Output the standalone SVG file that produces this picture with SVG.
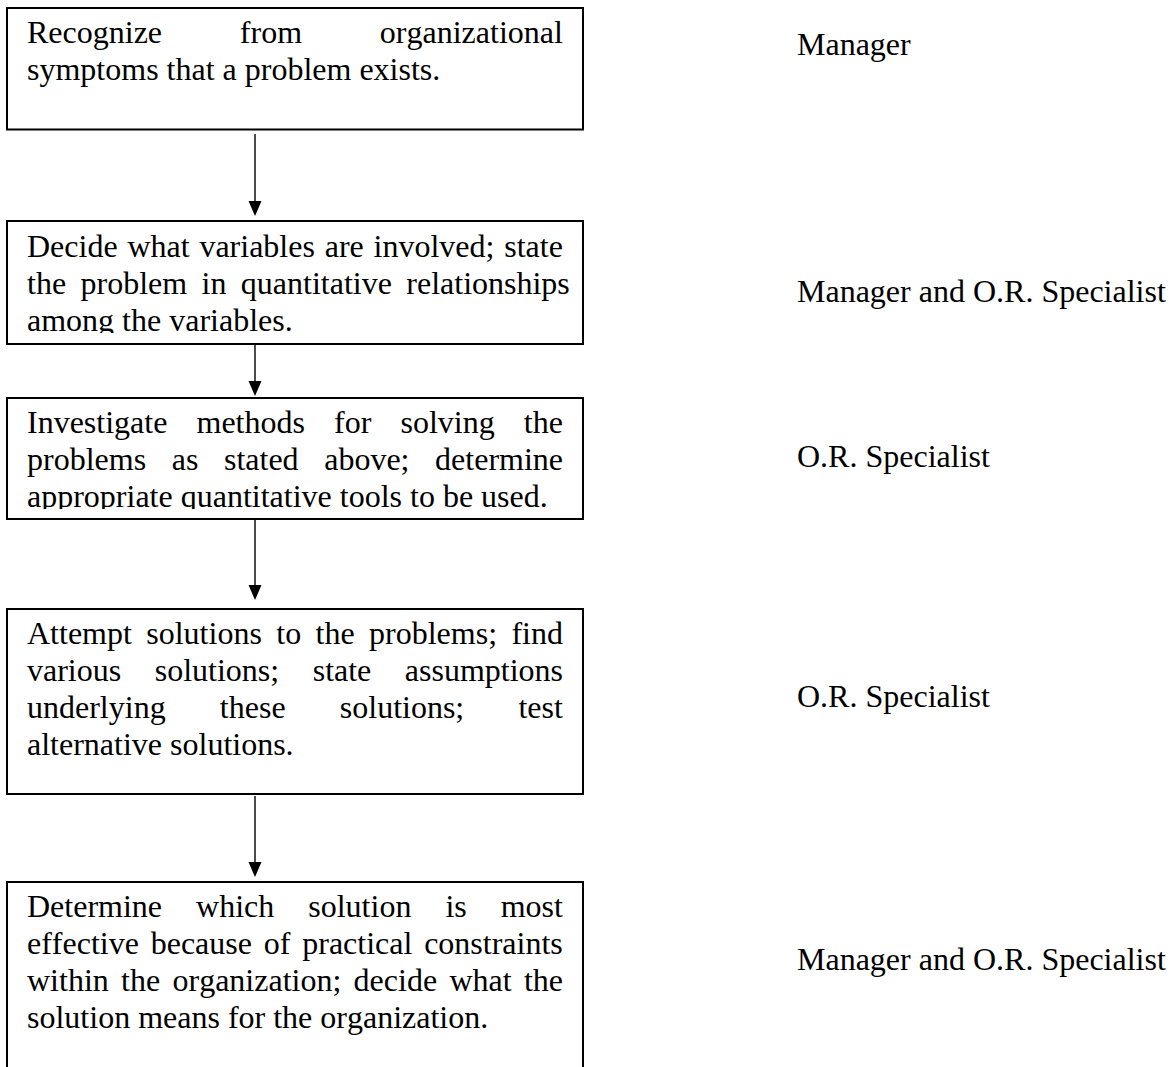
<svg xmlns="http://www.w3.org/2000/svg" width="1172" height="1067" viewBox="0 0 1172 1067">
  <style>
    .box { fill: #ffffff; stroke: #000000; stroke-width: 2; }
    .txt { font-family: "Liberation Serif", "Times New Roman", serif; font-size: 32px; fill: #000000; font-kerning: none; }
    .role { font-family: "Liberation Serif", "Times New Roman", serif; font-size: 32px; fill: #000000; font-kerning: none; }
    .link { stroke: #000000; stroke-width: 1.4; fill: none; }
  </style>
  <defs>
    <marker id="head" markerUnits="userSpaceOnUse" markerWidth="16" markerHeight="14" viewBox="0 0 16 14" refX="3" refY="7" orient="auto">
      <path d="M0,0.5 L15,7 L0,13.5 Z" fill="#000000"/>
    </marker>
    <!-- text frames of the two overfull boxes: the last line is cut at the inner margin -->
    <clipPath id="clip2"><rect x="8" y="222" width="574" height="111"/></clipPath>
    <clipPath id="clip3"><rect x="8" y="399" width="574" height="110"/></clipPath>
  </defs>

  <rect width="1172" height="1067" fill="#ffffff"/>

  <!-- step 1 -->
  <g id="step1">
    <rect class="box" x="7" y="8" width="576" height="121.5"/>
    <text class="txt" x="27" y="43" style="word-spacing:69.8px">Recognize from organizational</text>
    <text class="txt" x="27" y="80">symptoms that a problem exists.</text>
  </g>

  <!-- step 2 -->
  <g id="step2">
    <rect class="box" x="7" y="221" width="576" height="123"/>
    <g clip-path="url(#clip2)">
      <text class="txt" x="27" y="257" style="word-spacing:1.8px">Decide what variables are involved; state</text>
      <text class="txt" x="27" y="294" style="word-spacing:6.4px">the problem in quantitative relationships</text>
      <text class="txt" x="27" y="331">among the variables.</text>
    </g>
  </g>

  <!-- step 3 -->
  <g id="step3">
    <rect class="box" x="7" y="398" width="576" height="121"/>
    <g clip-path="url(#clip3)">
      <text class="txt" x="27" y="433" style="word-spacing:21.1px">Investigate methods for solving the</text>
      <text class="txt" x="27" y="470" style="word-spacing:17.6px">problems as stated above; determine</text>
      <text class="txt" x="27" y="507">appropriate quantitative tools to be used.</text>
    </g>
  </g>

  <!-- step 4 -->
  <g id="step4">
    <rect class="box" x="7" y="609" width="576" height="185"/>
    <text class="txt" x="27" y="644" style="word-spacing:6.4px">Attempt solutions to the problems; find</text>
    <text class="txt" x="27" y="681" style="word-spacing:25.5px">various solutions; state assumptions</text>
    <text class="txt" x="27" y="718" style="word-spacing:46.2px">underlying these solutions; test</text>
    <text class="txt" x="27" y="755">alternative solutions.</text>
  </g>

  <!-- step 5 (runs past the bottom edge) -->
  <g id="step5">
    <rect class="box" x="7" y="882" width="576" height="200"/>
    <text class="txt" x="27" y="917" style="word-spacing:26px">Determine which solution is most</text>
    <text class="txt" x="27" y="954" style="word-spacing:3.8px">effective because of practical constraints</text>
    <text class="txt" x="27" y="991" style="word-spacing:4.3px">within the organization; decide what the</text>
    <text class="txt" x="27" y="1028">solution means for the organization.</text>
  </g>

  <!-- who is responsible for each step -->
  <g id="roles">
    <text class="role" x="797" y="55">Manager</text>
    <text class="role" x="797" y="302">Manager and O.R. Specialist</text>
    <text class="role" x="797" y="467">O.R. Specialist</text>
    <text class="role" x="797" y="707">O.R. Specialist</text>
    <text class="role" x="797" y="970">Manager and O.R. Specialist</text>
  </g>

  <!-- connectors -->
  <g id="connectors">
    <line class="link" x1="255" y1="134" x2="255" y2="204" marker-end="url(#head)"/>
    <line class="link" x1="255" y1="344" x2="255" y2="384" marker-end="url(#head)"/>
    <line class="link" x1="255" y1="520" x2="255" y2="588" marker-end="url(#head)"/>
    <line class="link" x1="255" y1="796" x2="255" y2="865" marker-end="url(#head)"/>
  </g>
</svg>
